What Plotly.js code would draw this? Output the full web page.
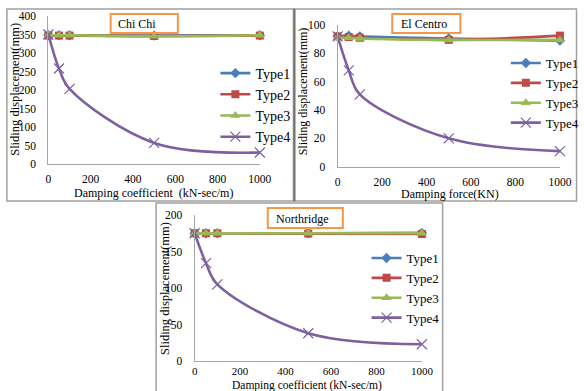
<!DOCTYPE html>
<html>
<head>
<meta charset="utf-8">
<script src="https://cdn.plot.ly/plotly-3.0.1.min.js"></script>
<style>
html,body{margin:0;padding:0;background:#fff;}
#chart{width:584px;height:391px;}
</style>
</head>
<body>
<div id="chart"></div>
<script>
// ---- data ----
const damping = [0, 50, 100, 500, 1000];
const typeNames = ["Type1", "Type2", "Type3", "Type4"];

const chichiType1 = [348, 348, 348, 347, 348];
const chichiType2 = [347, 347, 347, 346, 347];
const chichiType3 = [348, 348, 348, 345, 348];
const chichiType4 = [350, 258, 203, 57, 31];

const elcentroType1 = [92, 92.5, 92, 90.5, 89];
const elcentroType2 = [92, 91.5, 91, 89.5, 92.5];
const elcentroType3 = [91, 91, 90.5, 89.5, 89.5];
const elcentroType4 = [92, 68, 51, 20, 11];

const northridgeType1 = [175, 175, 175, 175, 175.5];
const northridgeType2 = [175, 175, 175, 174.5, 174];
const northridgeType3 = [175, 175, 175, 175, 175];
const northridgeType4 = [175, 134, 105, 38, 23];

const panelTitles = ["Chi Chi", "El Centro", "Northridge"];
const xTitles = ["Damping coefficient  (kN-sec/m)", "Damping force(KN)", "Damping coefficient (kN-sec/m)"];
const yTitle = "Sliding displacement(mm)";

// ---- styling ----
const W = 584, H = 391;
const px = v => v / W;
const py = v => 1 - v / H;
const serif = "Liberation Serif, DejaVu Serif, Noto Serif, Times, serif";
const colors = ["#4A7EBB", "#BE4B48", "#98B954", "#7D60A0"];
const symbols = ["diamond", "square", "triangle-up", "x-thin-open"];
const msize = [8, 8, 9, 10];

const panels = [
  {series: [chichiType1, chichiType2, chichiType3, chichiType4], xa: "x", ya: "y", lg: "legend"},
  {series: [elcentroType1, elcentroType2, elcentroType3, elcentroType4], xa: "x2", ya: "y2", lg: "legend2"},
  {series: [northridgeType1, northridgeType2, northridgeType3, northridgeType4], xa: "x3", ya: "y3", lg: "legend3"}
];

const traces = [];
panels.forEach((p, pi) => {
  p.series.forEach((vals, i) => {
    traces.push({
      x: damping, y: vals, name: typeNames[i],
      type: "scatter", mode: "lines+markers",
      xaxis: p.xa, yaxis: p.ya, legend: p.lg,
      legendgroup: "p" + pi + "t" + i,
      cliponaxis: false,
      line: {color: colors[i], width: 2.6, shape: "spline", smoothing: 1},
      marker: {symbol: symbols[i], size: msize[i], color: colors[i],
               line: {color: i === 3 ? "#9C86BA" : colors[i], width: i === 3 ? 1.2 : 0}}
    });
  });
});

function xax(domain, anchor, standoff, size) {
  return {domain: domain, anchor: anchor, range: [0, 1000], dtick: 200, tick0: 0,
    showline: true, linecolor: "#A6A6A6", linewidth: 1, showgrid: false, zeroline: false,
    ticks: "", ticklabelstandoff: standoff, tickfont: {family: serif, size: size, color: "#000"}, fixedrange: true};
}
function yax(domain, anchor, range, dtick) {
  return {domain: domain, anchor: anchor, range: range, dtick: dtick, tick0: 0,
    showline: true, linecolor: "#A6A6A6", linewidth: 1, showgrid: false, zeroline: false,
    ticks: "", ticklabelstandoff: 9, tickfont: {family: serif, size: 11.5, color: "#000"}, fixedrange: true};
}

function legendAt(xLeft, yCenter, size, gap) {
  return {x: px(xLeft), y: py(yCenter), xanchor: "left", yanchor: "middle",
    bgcolor: "rgba(0,0,0,0)", borderwidth: 0, itemwidth: 30, tracegroupgap: gap,
    font: {family: serif, size: size, color: "#000"}};
}

const shapes = [
  // panel frames
  {type: "rect", xref: "paper", yref: "paper", x0: px(7), x1: px(298), y0: py(201), y1: py(9), line: {color: "#A0A0A0", width: 1.5}},
  {type: "rect", xref: "paper", yref: "paper", x0: px(297), x1: px(583.5), y0: py(201), y1: py(9), line: {color: "#A0A0A0", width: 1.5}},
  {type: "line", xref: "paper", yref: "paper", x0: px(298), x1: px(298), y0: py(201), y1: py(9), line: {color: "#707070", width: 2}},
  {type: "rect", xref: "paper", yref: "paper", x0: px(158), x1: px(448), y0: py(395), y1: py(203), line: {color: "#A0A0A0", width: 1.5}},
  // orange title boxes
  {type: "rect", xref: "paper", yref: "paper", x0: px(112), x1: px(180), y0: py(33), y1: py(14), line: {color: "#F79646", width: 2}},
  {type: "rect", xref: "paper", yref: "paper", x0: px(397), x1: px(466), y0: py(33), y1: py(14), line: {color: "#F79646", width: 2}},
  {type: "rect", xref: "paper", yref: "paper", x0: px(271), x1: px(347), y0: py(228), y1: py(208), line: {color: "#F79646", width: 2}}
];

function ann(text, x, y, size, angle) {
  return {text: text, xref: "paper", yref: "paper", x: px(x), y: py(y), xanchor: "center", yanchor: "middle",
    showarrow: false, textangle: angle || 0, font: {family: serif, size: size, color: "#000"}};
}

const annotations = [
  ann(panelTitles[0], 139, 24, 12),
  ann(panelTitles[1], 429, 24, 12),
  ann(panelTitles[2], 306, 219, 12),
  ann(xTitles[0], 155, 193, 12),
  ann(xTitles[1], 455, 194, 12),
  ann(xTitles[2], 311, 385, 11.5),
  ann(yTitle, 15, 89, 12.5, -90),
  ann(yTitle, 307, 91, 12, -90),
  ann(yTitle, 167, 288, 12.5, -90)
];

const layout = {
  width: W, height: H, margin: {l: 0, r: 0, t: 0, b: 0},
  paper_bgcolor: "#fff", plot_bgcolor: "rgba(0,0,0,0)",
  showlegend: true,
  font: {family: serif},
  xaxis: xax([px(49), px(263)], "y", 4, 11.5),
  yaxis: yax([py(164), py(16)], "x", [0, 400], 50),
  xaxis2: xax([px(341.7), px(566.7)], "y2", 4, 11.5),
  yaxis2: yax([py(166.7), py(25)], "x2", [0, 100], 20),
  xaxis3: xax([px(197), px(427)], "y3", 0, 11),
  yaxis3: yax([py(361), py(215)], "x3", [0, 200], 50),
  legend: legendAt(218, 105, 14, 0),
  legend2: legendAt(512, 93, 13, 0),
  legend3: legendAt(371, 288, 13, 0),
  shapes: shapes,
  annotations: annotations
};

Plotly.newPlot("chart", traces, layout, {displayModeBar: false, staticPlot: true});
</script>
</body>
</html>
